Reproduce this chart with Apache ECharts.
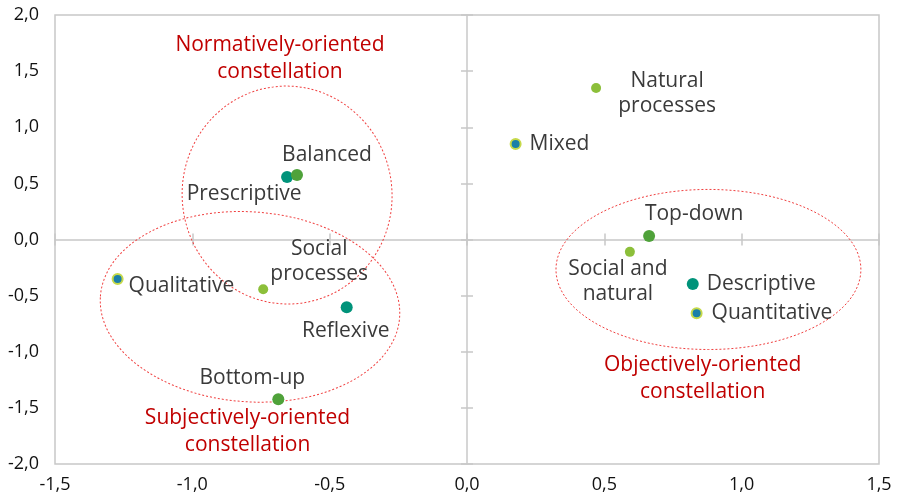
<!DOCTYPE html>
<html>
<head>
<meta charset="utf-8">
<script src="https://cdn.jsdelivr.net/npm/echarts@6/dist/echarts.min.js"></script>
<style>
  html, body { margin: 0; padding: 0; background: #fff; }
  #chart { width: 898px; height: 500px; }
</style>
</head>
<body>
<div id="chart"></div>
<script>
    'use strict';

    // points: [x, y, name]
    var tealPoints = [
        [-0.655, 0.557, 'Prescriptive'],
        [-0.438, -0.604, 'Reflexive'],
        [0.822, -0.396, 'Descriptive']
    ];
    var greenPoints = [
        [-0.619, 0.574, 'Balanced'],
        [0.663, 0.031, 'Top-down'],
        [-0.687, -1.424, 'Bottom-up']
    ];
    var lightPoints = [
        [0.470, 1.350, 'Natural\nprocesses'],
        [-0.742, -0.444, 'Social\nprocesses'],
        [0.593, -0.110, 'Social and\nnatural']
    ];
    var bluePoints = [
        [0.177, 0.851, 'Mixed'],
        [-1.272, -0.352, 'Qualitative'],
        [0.836, -0.657, 'Quantitative']
    ];

    // ellipses: [cx, cy, rx, ry, rotation deg]
    var ellipses = [
        [-0.655, 0.396, 0.382, 0.971, 6],
        [-0.790, -0.600, 0.546, 0.846, -4],
        [0.879, -0.267, 0.555, 0.713, 0]
    ];

    var notes = [
        [-0.681, 1.612, 'Normatively-oriented\nconstellation'],
        [-0.799, -1.710, 'Subjectively-oriented\nconstellation'],
        [0.858, -1.238, 'Objectively-oriented\nconstellation']
    ];

    // label placement per point name
    var labelPos = {
        'Balanced': { offset: [30, -20] },
        'Prescriptive': { offset: [-43, 17] },
        'Natural\nprocesses': { offset: [71, 6] },
        'Top-down': { offset: [45, -22] },
        'Social and\nnatural': { offset: [-12, 30] },
        'Social\nprocesses': { offset: [56, -28] },
        'Reflexive': { offset: [-1, 24] },
        'Bottom-up': { offset: [-26, -21] },
        'Mixed': { right: 8, offset: [0, 0] },
        'Descriptive': { right: 8, offset: [0, 0] },
        'Quantitative': { right: 9, offset: [0, 0] },
        'Qualitative': { right: 5, offset: [0, 7] }
    };

    var FONT = '"Open Sans", "Noto Sans", sans-serif';

    function fmt(v) {
        return v.toFixed(1).replace('.', ',');
    }

    function toItems(list) {
        return list.map(function(p) {
            var lp = labelPos[p[2]];
            var label = lp.right != null
                ? { position: 'right', distance: lp.right, offset: lp.offset, align: 'left' }
                : { position: 'inside', offset: lp.offset, align: 'center' };
            return { name: p[2], value: [p[0], p[1]], label: label };
        });
    }

    var pointLabel = {
        show: true,
        formatter: '{b}',
        color: '#3a3a3a',
        fontFamily: FONT,
        fontSize: 21,
        lineHeight: 25,
        verticalAlign: 'middle'
    };

    function dotSeries(name, list, color, size, border) {
        return {
            name: name,
            type: 'scatter',
            xAxisIndex: 0,
            yAxisIndex: 0,
            symbolSize: size,
            itemStyle: border
                ? { color: color, borderColor: border, borderWidth: 2, opacity: 1 }
                : { color: color, opacity: 1 },
            label: pointLabel,
            emphasis: { disabled: true },
            data: toItems(list),
            z: 5
        };
    }

    var range = { min: -1.5, max: 1.5, interval: 0.5 };
    var yrange = { min: -2, max: 2, interval: 0.5 };

    function zeroAxis(base, inside, showLine) {
        return Object.assign({}, base, {
            type: 'value',
            axisLine: {
                show: showLine,
                onZero: true,
                onZeroAxisIndex: 0,
                lineStyle: { color: '#c8c8c8', width: 1.5 }
            },
            axisTick: {
                show: true,
                inside: inside,
                length: 6,
                lineStyle: { color: '#c8c8c8', width: 1.5 }
            },
            axisLabel: { show: false },
            splitLine: { show: false }
        });
    }

    var chart = echarts.init(document.getElementById('chart'));

    chart.setOption({
        animation: false,
        backgroundColor: '#fff',
        grid: {
            left: 55, right: 19, top: 15, bottom: 36,
            show: true,
            borderColor: '#c8c8c8',
            borderWidth: 1.5
        },
        xAxis: [
            Object.assign({}, range, {
                type: 'value',
                position: 'bottom',
                axisLine: { show: false, onZero: false },
                axisTick: { show: false },
                splitLine: { show: false },
                axisLabel: {
                    formatter: fmt, color: '#111', fontFamily: FONT,
                    fontSize: 18, margin: 12
                }
            }),
            zeroAxis(range, true, true),
            zeroAxis(range, false, false)
        ],
        yAxis: [
            Object.assign({}, yrange, {
                type: 'value',
                position: 'left',
                axisLine: { show: false, onZero: false },
                axisTick: { show: false },
                splitLine: { show: false },
                axisLabel: {
                    formatter: fmt, color: '#111', fontFamily: FONT,
                    fontSize: 18, margin: 16
                }
            }),
            zeroAxis(yrange, true, true),
            zeroAxis(yrange, false, false)
        ],
        series: [
            {
                type: 'custom',
                xAxisIndex: 0,
                yAxisIndex: 0,
                silent: true,
                data: ellipses,
                renderItem: function(params, api) {
                    var c = api.coord([api.value(0), api.value(1)]);
                    var s = api.size([api.value(2), api.value(3)]);
                    return {
                        type: 'ellipse',
                        x: c[0],
                        y: c[1],
                        rotation: api.value(4) * Math.PI / 180,
                        shape: { cx: 0, cy: 0, rx: s[0], ry: s[1] },
                        style: {
                            fill: null,
                            stroke: '#f04040',
                            lineWidth: 1,
                            lineDash: [2, 2]
                        }
                    };
                },
                z: 3
            },
            dotSeries('teal', tealPoints, '#00937a', 12),
            dotSeries('green', greenPoints, '#4fa23a', 12),
            dotSeries('light', lightPoints, '#8cbf3a', 10),
            dotSeries('blue', bluePoints, '#1a7fa8', 10, '#c6d94a'),
            {
                type: 'scatter',
                xAxisIndex: 0,
                yAxisIndex: 0,
                symbolSize: 0,
                silent: true,
                itemStyle: { opacity: 1 },
                label: {
                    show: true,
                    position: 'inside',
                    formatter: function(p) { return p.data[2]; },
                    color: '#c00000',
                    fontFamily: FONT,
                    fontSize: 21,
                    lineHeight: 27,
                    align: 'center',
                    verticalAlign: 'middle'
                },
                data: notes
            }
        ]
    });
</script>
</body>
</html>
